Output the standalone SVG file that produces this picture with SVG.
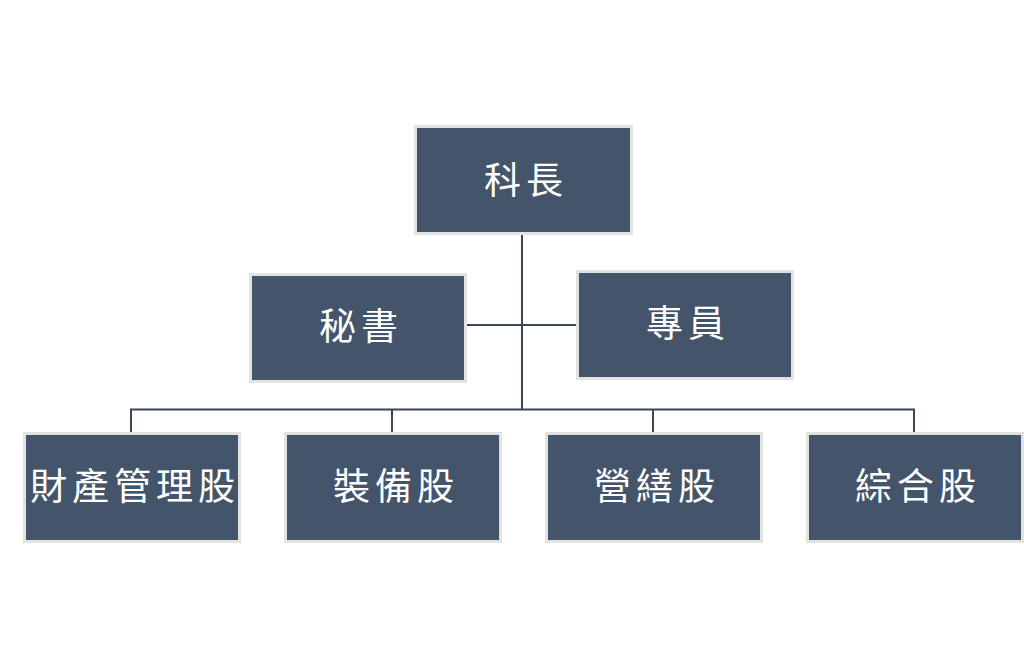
<svg xmlns="http://www.w3.org/2000/svg" width="1024" height="667" viewBox="0 0 1024 667">
<style>
.box{fill:#44546A;stroke:#E2E2E2;stroke-width:3}
.lbl{fill:#FFFFFF;font-family:"Noto Sans CJK TC","Noto Sans CJK SC",sans-serif;font-size:37px;letter-spacing:5px;text-anchor:middle;dominant-baseline:central}
.conn{stroke:#3B4658;stroke-width:2;fill:none}
</style>
<rect width="1024" height="667" fill="#FFFFFF"/>
<g id="connectors">
<line class="conn" x1="522" y1="235" x2="522" y2="410"/>
<line class="conn" x1="467" y1="325" x2="577" y2="325"/>
<polyline class="conn" points="131,432 131,409.5 914,409.5 914,432"/>
<line class="conn" x1="392" y1="409" x2="392" y2="432"/>
<line class="conn" x1="653" y1="409" x2="653" y2="432"/>
</g>
<g id="n-kezhang"><rect class="box" x="415.5" y="126.5" width="216" height="107"/><text class="lbl" x="526" y="178">科長</text></g>
<g id="n-mishu"><rect class="box" x="250.5" y="274.5" width="215" height="107"/><text class="lbl" x="361" y="324">秘書</text></g>
<g id="n-zhuanyuan"><rect class="box" x="577.5" y="271.5" width="215" height="107"/><text class="lbl" x="688" y="321">專員</text></g>
<g id="n-caichan"><rect class="box" x="24.5" y="433.5" width="215" height="108"/><text class="lbl" x="135" y="484">財產管理股</text></g>
<g id="n-zhuangbei"><rect class="box" x="285.5" y="433.5" width="215" height="108"/><text class="lbl" x="396" y="484">裝備股</text></g>
<g id="n-yingshan"><rect class="box" x="546.5" y="433.5" width="215" height="108"/><text class="lbl" x="657" y="484">營繕股</text></g>
<g id="n-zonghe"><rect class="box" x="807.5" y="433.5" width="215" height="108"/><text class="lbl" x="918" y="484">綜合股</text></g>
</svg>
